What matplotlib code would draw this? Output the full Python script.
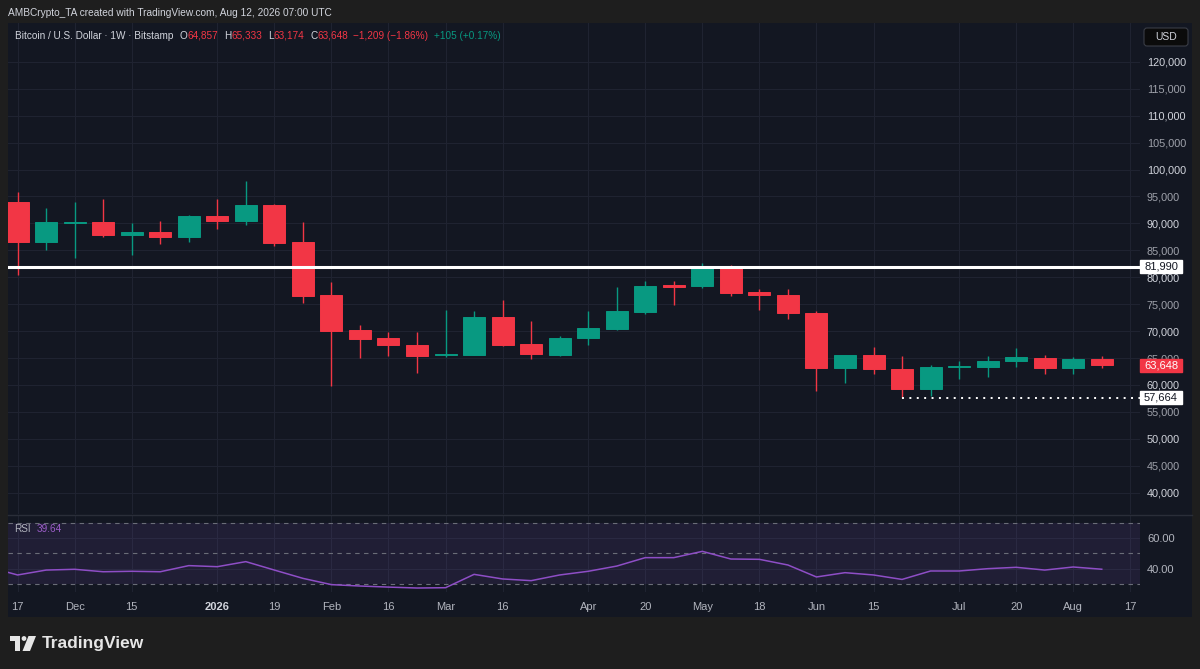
import matplotlib
matplotlib.use('Agg')
import matplotlib.pyplot as plt
import matplotlib.dates as mdates
import matplotlib.transforms as mtransforms
from matplotlib.patches import Rectangle, Polygon, Circle, FancyBboxPatch
import numpy as np
import pandas as pd

plt.rcParams['font.family'] = ['Liberation Sans', 'DejaVu Sans']

# ---------------- data ----------------
dates = ['2025-11-17', '2025-11-24', '2025-12-01', '2025-12-08', '2025-12-15', '2025-12-22',
         '2025-12-29', '2026-01-05', '2026-01-12', '2026-01-19', '2026-01-26', '2026-02-02',
         '2026-02-09', '2026-02-16', '2026-02-23', '2026-03-02', '2026-03-09', '2026-03-16',
         '2026-03-23', '2026-03-30', '2026-04-06', '2026-04-13', '2026-04-20', '2026-04-27',
         '2026-05-04', '2026-05-11', '2026-05-18', '2026-05-25', '2026-06-01', '2026-06-08',
         '2026-06-15', '2026-06-22', '2026-06-29', '2026-07-06', '2026-07-13', '2026-07-20',
         '2026-07-27', '2026-08-03', '2026-08-10']
opens = [94030, 86490, 90150, 90205, 87900, 88405, 87530, 91375, 90500, 93475, 86490, 76760,
         70150, 68665, 67480, 65565, 65620, 72680, 67610, 65620, 68780, 70450, 73550, 78565,
         78320, 81960, 77210, 76760, 73365, 63095, 65510, 62965, 59255, 63340, 63395, 64450,
         65065, 63210, 64857]
highs = [95775, 92860, 93975, 94475, 90020, 90450, 91560, 94530, 97875, 93600, 90260, 79120,
         71135, 69840, 69895, 73920, 73790, 75780, 71880, 69095, 73680, 78135, 79305, 79305,
         82700, 82275, 77875, 77875, 73735, 65600, 67050, 65380, 63655, 64510, 65380, 66810,
         65565, 65140, 65333]
lows = [80420, 85060, 83630, 87420, 84190, 86230, 86600, 89015, 89760, 85860, 75280, 59810,
        64955, 65440, 62280, 65140, 65500, 67240, 64825, 65440, 67480, 70300, 73180, 74850,
        78060, 76520, 73920, 72250, 58940, 60420, 62040, 57664, 57900, 61055, 61540, 63395,
        61985, 62040, 63174]
closes = [86490, 90205, 90250, 87845, 88405, 87530, 91375, 90500, 93475, 86305, 76575, 70020,
          68480, 67365, 65380, 65810, 72680, 67480, 65695, 68720, 70580, 73680, 78430, 78250,
          81960, 77080, 76710, 73310, 63095, 65510, 62910, 59255, 63395, 63580, 64510, 65140,
          63210, 64770, 63648]

rsi_dates = ['2025-11-10'] + dates
rsi_values = [41.0, 35.9, 39.1, 39.6, 38.0, 38.3, 38.0, 42.0, 41.3, 44.6, 39.1, 33.7, 29.6,
              28.7, 28.0, 27.4, 27.6, 36.3, 33.3, 32.2, 35.9, 38.3, 41.7, 47.2, 47.2, 51.3,
              46.3, 46.1, 42.4, 34.6, 37.4, 35.9, 33.0, 38.5, 38.5, 40.0, 40.9, 39.1, 41.1, 39.64]

resistance_level = 81990
low_level = 57664
low_level_date = '2026-06-22'
last_price = 63648
change_text = '\u22121,209 (\u22121.86%)'
post_text = '+105 (+0.17%)'

time_tick_dates = ['2025-11-17', '2025-12-01', '2025-12-15', '2026-01-05', '2026-01-19',
                   '2026-02-02', '2026-02-16', '2026-03-02', '2026-03-16', '2026-04-06',
                   '2026-04-20', '2026-05-04', '2026-05-18', '2026-06-01', '2026-06-15',
                   '2026-07-06', '2026-07-20', '2026-08-03', '2026-08-17']
time_tick_labels = ['17', 'Dec', '15', '2026', '19', 'Feb', '16', 'Mar', '16', 'Apr',
                    '20', 'May', '18', 'Jun', '15', 'Jul', '20', 'Aug', '17']
price_ticks = list(range(40000, 120001, 5000))
rsi_ticks = [40, 60]
rsi_tick_labels = ['40.00', '60.00']

# ---------------- style ----------------
W, H = 1200, 669
BG_OUT = '#1e1e1e'
BG = '#131722'
GRID = '#1f2331'
RED = '#f23645'
GREEN = '#089981'
TXT = '#b2b5be'
TXT_B = '#d1d4dc'
PURPLE = '#8e4ec6'

fig = plt.figure(figsize=(12, 6.69), dpi=100)
fig.patch.set_facecolor(BG_OUT)
px = mtransforms.Affine2D().scale(1, -1).translate(0, H)  # pixel coords (top-left origin)


def fr(x0, y0, x1, y1):
    return [x0 / W, 1 - y1 / H, (x1 - x0) / W, (y1 - y0) / H]


fig.add_artist(Rectangle((8, 23), 1184, 594, transform=px, fc=BG, ec='none', zorder=0))

d = mdates.date2num(pd.to_datetime(dates))
rd = mdates.date2num(pd.to_datetime(rsi_dates))
td = mdates.date2num(pd.to_datetime(time_tick_dates))
x0 = d[0]
xlim = (x0 - 0.336 * 7, x0 + 39.34 * 7)
o = np.array(opens, float); c = np.array(closes, float)
hi = np.array(highs, float); lo = np.array(lows, float)

# ---------------- main pane ----------------
ax = fig.add_axes(fr(8, 23, 1140, 514))
ax.patch.set_alpha(0)
ax.set_xlim(*xlim)
ymin, ymax = 36045, 127208
ax.set_ylim(ymin, ymax)
for s in ax.spines.values():
    s.set_visible(False)
ax.set_xticks(td)
ax.set_xticklabels([])
ax.yaxis.tick_right()
ax.set_yticks(price_ticks)
ax.set_yticklabels([f'{v:,}' for v in price_ticks])
ax.tick_params(axis='both', length=0)
ax.tick_params(axis='y', pad=5, labelsize=7.8)
for v, lab in zip(price_ticks, ax.get_yticklabels()):
    lab.set_color(TXT_B if v % 10000 == 0 else '#9fa2ab')
ax.grid(True, color=GRID, lw=0.8)
ax.set_axisbelow(True)

cols = [GREEN if cc >= oo else RED for oo, cc in zip(o, c)]
ax.vlines(d, lo, hi, colors=cols, lw=1.0, zorder=3)
ax.bar(d, np.abs(c - o), bottom=np.minimum(o, c), width=5.4, color=cols,
       edgecolor=cols, linewidth=0.7, zorder=4)

ax.axhline(resistance_level, color='white', lw=2.2, zorder=5)
ax.hlines(low_level, mdates.date2num(pd.Timestamp(low_level_date)), xlim[1], color='white',
          lw=1.4, linestyles=[(0, (1, 2.8))], zorder=5)

blend = mtransforms.blended_transform_factory(ax.transAxes, ax.transData)
dpp = (ymax - ymin) / 491.0


def price_label(y, text, fc, tc):
    h = 13 * dpp
    ax.add_patch(Rectangle((1.0, y - h / 2), 42 / 1132, h, transform=blend, fc=fc, ec=fc,
                           clip_on=False, zorder=10))
    ax.text(1.0 + 21 / 1132, y, text, transform=blend, ha='center', va='center', fontsize=8,
            color=tc, clip_on=False, zorder=11)


price_label(resistance_level, f'{resistance_level:,}', 'white', '#131722')
price_label(last_price, f'{last_price:,}', RED, 'white')
price_label(low_level, f'{low_level:,}', 'white', '#131722')

# USD box
fig.add_artist(FancyBboxPatch((1144, 28), 44, 18, boxstyle='round,pad=0,rounding_size=3',
                              transform=px, fc='#0b0b0b', ec='#3a3d46', lw=0.8, zorder=6))
fig.text(1166, 37, 'USD', transform=px, ha='center', va='center', fontsize=7.5,
         color=TXT_B, zorder=7)

# ---------------- RSI pane ----------------
ax2 = fig.add_axes(fr(8, 515, 1140, 592))
ax2.patch.set_alpha(0)
ax2.set_xlim(*xlim)
ax2.set_ylim(24.8, 75)
for s in ax2.spines.values():
    s.set_visible(False)
ax2.axhspan(30, 70, color='#7e57c2', alpha=0.12, lw=0)
for lvl in (70, 50, 30):
    ax2.axhline(lvl, color='#6a6d78', lw=0.8, ls=(0, (4, 4)))
ax2.yaxis.tick_right()
ax2.set_yticks(rsi_ticks)
ax2.set_yticklabels(rsi_tick_labels)
ax2.set_xticks(td)
ax2.set_xticklabels(time_tick_labels)
ax2.tick_params(axis='both', length=0, labelcolor=TXT, labelsize=8)
ax2.tick_params(axis='x', pad=7)
ax2.tick_params(axis='y', pad=5)
for lab in ax2.get_xticklabels():
    if lab.get_text() == '2026':
        lab.set_fontweight('bold')
        lab.set_color(TXT_B)
ax2.grid(True, color=GRID, lw=0.8)
ax2.set_axisbelow(True)
ax2.plot(rd, rsi_values, color=PURPLE, lw=1.1, zorder=4)

# pane separator
fig.add_artist(plt.Line2D([8, 1192], [514.5, 514.5], transform=px, color='#2a2e39', lw=1.0))

# ---------------- texts ----------------
renderer = fig.canvas.get_renderer()


def text_run(x, y, parts, size):
    for s, colr, gap in parts:
        x += gap
        t = fig.text(x, y, s, transform=px, ha='left', va='baseline', fontsize=size, color=colr)
        x += t.get_window_extent(renderer).width
    return x


text_run(8, 16, [('AMBCrypto_TA created with TradingView.com, Aug 12, 2026 07:00 UTC', TXT_B, 0)], 7.3)

legend_parts = [('Bitcoin / U.S. Dollar \u00b7 1W \u00b7 Bitstamp', TXT_B, 0),
                ('O', TXT_B, 6), (f'{opens[-1]:,}', RED, 0),
                ('H', TXT_B, 6), (f'{highs[-1]:,}', RED, 0),
                ('L', TXT_B, 6), (f'{lows[-1]:,}', RED, 0),
                ('C', TXT_B, 6), (f'{closes[-1]:,}', RED, 0),
                (change_text, RED, 5), (post_text, GREEN, 6)]
text_run(15, 39, legend_parts, 7.2)

text_run(14, 531.5, [('RSI', TXT, 0), (f'{rsi_values[-1]:.2f}', '#9c5dc9', 6)], 7.2)

# TradingView logo
LOGO = '#e6e6e6'
fig.add_artist(Rectangle((10, 636), 10, 5, transform=px, fc=LOGO, ec='none'))
fig.add_artist(Rectangle((15, 636), 5, 15, transform=px, fc=LOGO, ec='none'))
fig.add_artist(Circle((24, 638.5), 2.4, transform=px, fc=LOGO, ec='none'))
fig.add_artist(Polygon([(28.5, 636), (36, 636), (30, 651), (22.5, 651)], closed=True,
                       transform=px, fc=LOGO, ec='none'))
fig.text(42, 643.5, 'TradingView', transform=px, ha='left', va='center', fontsize=12.5,
         fontweight='bold', color=LOGO)

fig.savefig('out.png', dpi=100, facecolor=fig.get_facecolor())
